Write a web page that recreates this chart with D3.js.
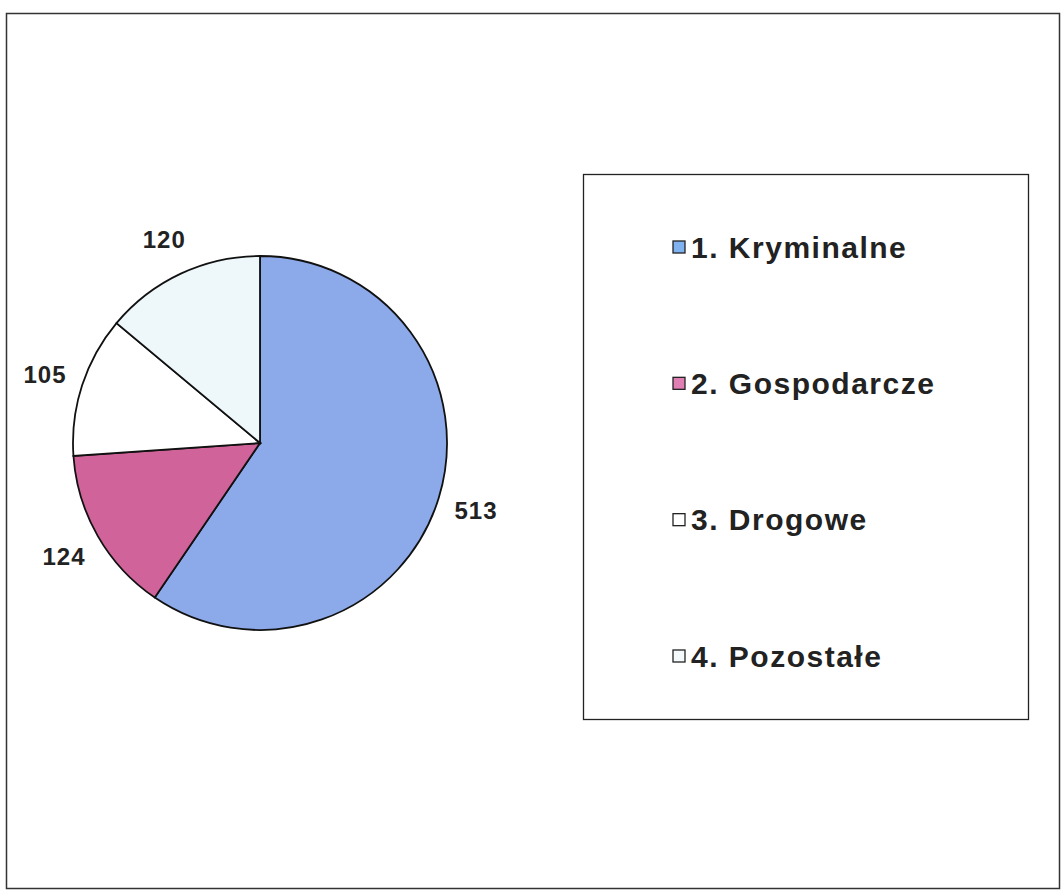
<!DOCTYPE html>
<html>
<head>
<meta charset="utf-8">
<script src="https://cdn.jsdelivr.net/npm/d3@7"></script>
<style>
  body { margin: 0; background: #fff; }
  text { font-family: "Liberation Sans", Arial, sans-serif; font-weight: bold; fill: #222; }
</style>
</head>
<body>
<svg id="chart"></svg>
<script>
// dane z wykresu
var categories = ["1. Kryminalne", "2. Gospodarcze", "3. Drogowe", "4. Pozostałe"];
var values = [513, 124, 105, 120];
var sliceColors = ["#8ca9e9", "#d0649a", "#ffffff", "#eef7fa"];
var legendColors = ["#80b2f0", "#e07fb4", "#ffffff", "#f4fafc"];

var width = 1063, height = 891;

var svg = d3.select("#chart")
    .attr("width", width)
    .attr("height", height);

// ramka wykresu
svg.append("rect")
    .attr("x", 6.5).attr("y", 13.5)
    .attr("width", 1053).attr("height", 875)
    .attr("fill", "none")
    .attr("stroke", "#333")
    .attr("stroke-width", 1.5);

var cx = 260, cy = 443, radius = 187;

var pie = d3.pie().sort(null).value(function(d) { return d; });
var arc = d3.arc().innerRadius(0).outerRadius(radius);
var labelArc = d3.arc().innerRadius(226).outerRadius(226);

var g = svg.append("g")
    .attr("transform", "translate(" + cx + "," + cy + ")");

var arcs = pie(values);

g.selectAll(".slice")
    .data(arcs)
  .enter().append("path")
    .attr("class", "slice")
    .attr("d", arc)
    .attr("fill", function(d, i) { return sliceColors[i]; })
    .attr("stroke", "#111")
    .attr("stroke-width", 1.8);

g.selectAll(".lbl")
    .data(arcs)
  .enter().append("text")
    .attr("class", "lbl")
    .attr("transform", function(d) { return "translate(" + labelArc.centroid(d) + ")"; })
    .attr("text-anchor", "middle")
    .attr("dy", "0.4em")
    .style("font-size", "24px")
    .style("letter-spacing", "1px")
    .text(function(d) { return d.data; });

// legenda
var legend = svg.append("g");
legend.append("rect")
    .attr("x", 583.5).attr("y", 174.5)
    .attr("width", 445).attr("height", 545)
    .attr("fill", "#fff")
    .attr("stroke", "#222")
    .attr("stroke-width", 1.3);

var ly = d3.scalePoint().domain(categories).range([247, 656]);

var item = legend.selectAll(".item")
    .data(categories)
  .enter().append("g")
    .attr("class", "item")
    .attr("transform", function(d) { return "translate(673," + ly(d) + ")"; });

item.append("rect")
    .attr("x", 0).attr("y", -6)
    .attr("width", 12).attr("height", 12)
    .attr("fill", function(d, i) { return legendColors[i]; })
    .attr("stroke", "#222")
    .attr("stroke-width", 1.3);

item.append("text")
    .attr("x", 18)
    .attr("dy", "0.36em")
    .style("font-size", "30px")
    .style("letter-spacing", "1.5px")
    .text(function(d) { return d; });
</script>
</body>
</html>
